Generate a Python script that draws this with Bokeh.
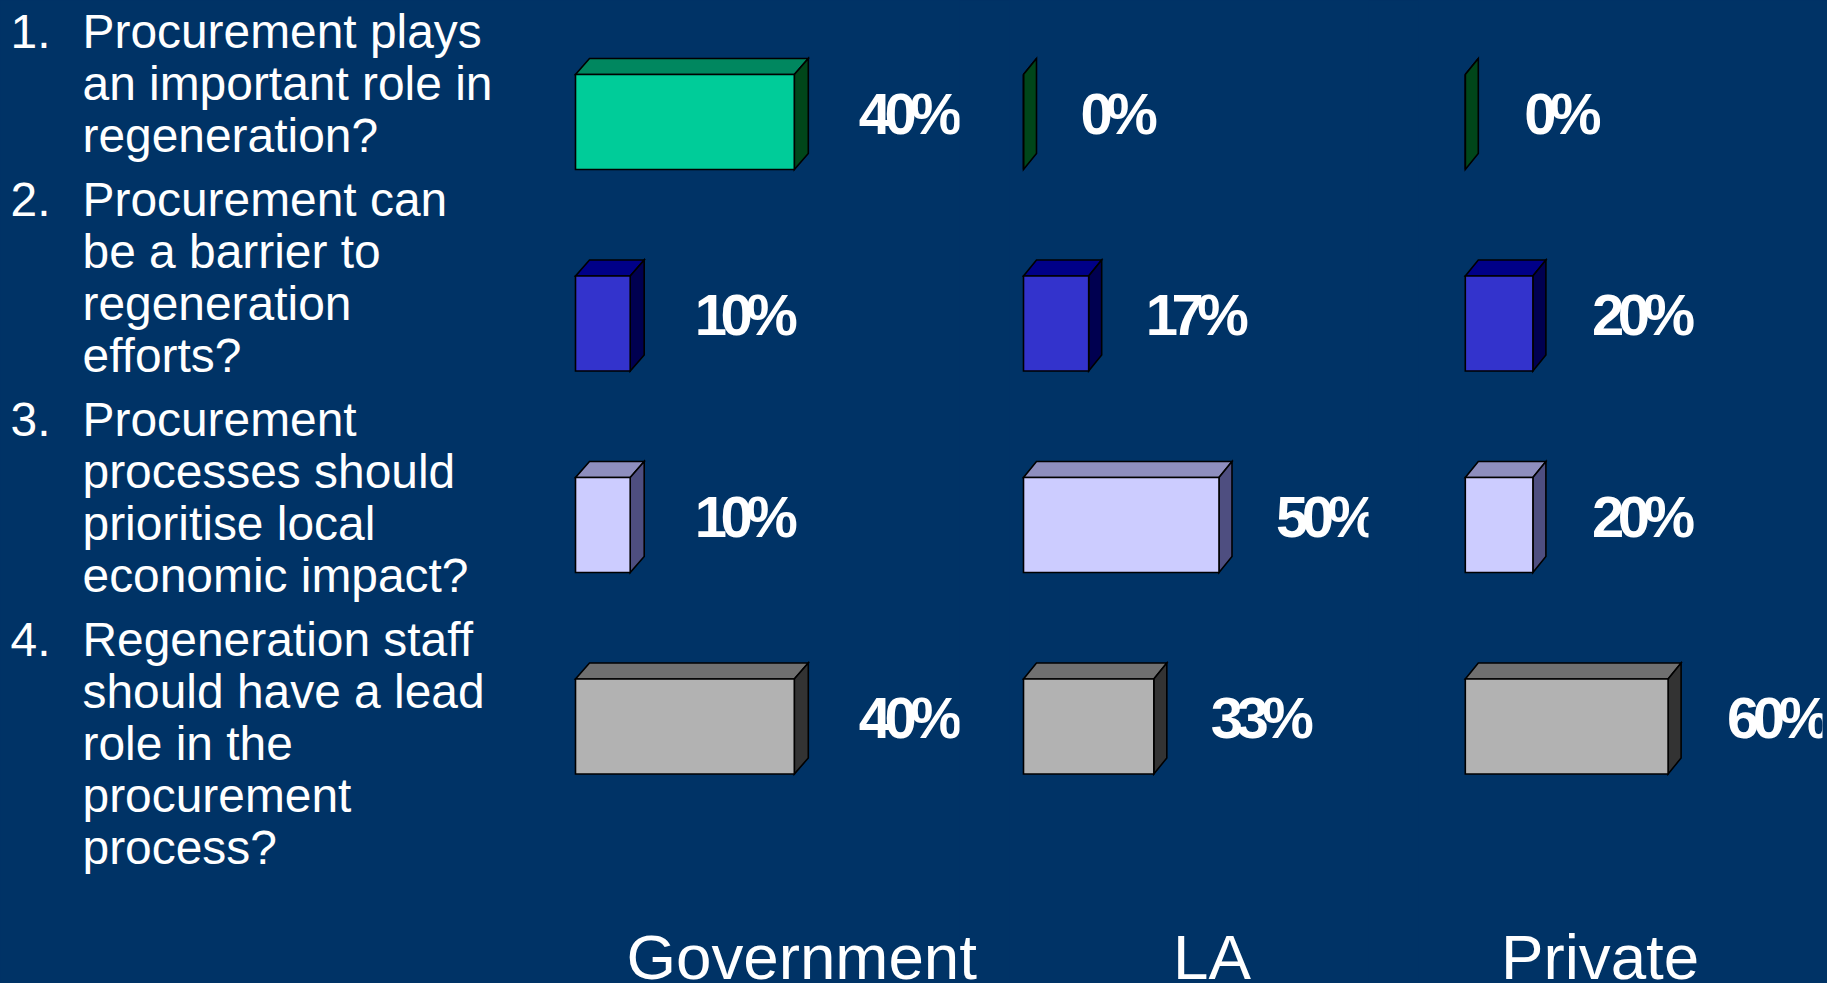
from bokeh.plotting import figure
from bokeh.models import Range1d
from bokeh.core.properties import value
from bokeh.embed import file_html
from bokeh.resources import INLINE

W, H = 1827, 983
BG = "#003366"

# Data
groups = ["Government", "LA", "Private"]
government = [40, 10, 10, 40]
la = [0, 16.67, 50, 33.33]
private = [0, 20, 20, 60]
government_labels = ["40%", "10%", "10%", "40%"]
la_labels = ["0%", "17%", "50%", "33%"]
private_labels = ["0%", "20%", "20%", "60%"]
questions = [
    ["Procurement plays", "an important role in", "regeneration?"],
    ["Procurement can", "be a barrier to", "regeneration", "efforts?"],
    ["Procurement", "processes should", "prioritise local", "economic impact?"],
    ["Regeneration staff", "should have a lead", "role in the", "procurement", "process?"],
]

# Styles
front_colors = ["#00CC99", "#3333CC", "#CCCCFF", "#B2B2B2"]
top_colors = ["#00875F", "#000088", "#8E8EBE", "#707070"]
side_colors = ["#00461A", "#000050", "#4E4E80", "#333333"]

x0 = [575, 1023, 1464.8]        # pixel of 0 %
px_per = [5.47, 3.91, 3.38]     # pixel per %
dx = [14, 13, 13]               # depth of the box
lab_gap = [50.5, 44, 46]
clips = [959, 1368, 1822]
ROW0, PITCH, FRONT, DY = 74, 201.5, 95, 16
BASE_FIX = 0.37                 # baseline correction, in em

LIST_PX, LABEL_PX, GROUP_PX = 47.9, 58, 63.7

p = figure(width=W, height=H, x_range=Range1d(0, W), y_range=Range1d(H, 0),
           output_backend="svg", toolbar_location=None, min_border=0,
           background_fill_color=BG, border_fill_color=BG, outline_line_color=None)
p.axis.visible = False
p.grid.visible = False
p.extra_y_ranges["rows"] = Range1d((H - ROW0) / PITCH, -ROW0 / PITCH)

columns = [(government, government_labels), (la, la_labels), (private, private_labels)]
for c, (vals, labs) in enumerate(columns):
    name = f"col{c}"
    s = px_per[c]
    p.extra_x_ranges[name] = Range1d(-x0[c] / s, (W - x0[c]) / s)
    d, hh, dy = dx[c] / s, FRONT / PITCH, DY / PITCH
    rows = list(range(len(vals)))
    kw = dict(x_range_name=name, y_range_name="rows", line_color="black", line_width=1.6,
              line_join="miter")
    p.patches([[0, v, v + d, d] for v in vals],
              [[r, r, r - dy, r - dy] for r in rows],
              fill_color=top_colors, **kw)
    p.patches([[v, v + d, v + d, v] for v in vals],
              [[r, r - dy, r + hh - dy, r + hh] for r in rows],
              fill_color=side_colors, **kw)
    p.patches([[0, v, v, 0] for v in vals],
              [[r, r, r + hh, r + hh] for r in rows],
              fill_color=front_colors, **kw)
    p.text([v + d for v in vals], [r + 0.3 for r in rows], text=labs,
           x_range_name=name, y_range_name="rows", x_offset=lab_gap[c],
           y_offset=-BASE_FIX * LABEL_PX,
           text_color="white", text_font=value("Liberation Sans"),
           text_font_style="bold", text_font_size=f"{LABEL_PX}px",
           text_baseline="alphabetic", text_align="left")

# the value labels are cut off by their chart box on the right
for clip in clips:
    p.quad(left=[clip], right=[clip + 50], top=[0], bottom=[H],
           fill_color=BG, line_color=None)

# Question list
baseline = 48.7
for i, lines in enumerate(questions):
    p.text([10], [baseline], text=[f"{i + 1}."], text_color="white", y_offset=-BASE_FIX * LIST_PX,
           text_font=value("Liberation Sans"), text_font_size=f"{LIST_PX}px",
           text_baseline="alphabetic")
    ys = [baseline + 52 * k for k in range(len(lines))]
    p.text([82] * len(lines), ys, text=lines, text_color="white", y_offset=-BASE_FIX * LIST_PX,
           text_font=value("Liberation Sans"), text_font_size=f"{LIST_PX}px",
           text_baseline="alphabetic")
    baseline += 52 * len(lines) + 12

# Group captions
p.text([626, 1172.5, 1500.5], [979.5] * 3, text=groups, text_color="white",
       y_offset=-BASE_FIX * GROUP_PX,
       text_font=value("Liberation Sans"), text_font_size=f"{GROUP_PX}px",
       text_baseline="alphabetic")

tighten = """
<script>
(function () {
  function walk(root) {
    root.querySelectorAll('*').forEach(function (el) {
      if (el.shadowRoot) walk(el.shadowRoot);
      if (el.tagName && el.tagName.toLowerCase() === 'text' && /%$/.test(el.textContent)) {
        el.style.letterSpacing = '-6.5px';
      }
    });
  }
  var n = 0, t = setInterval(function () { walk(document); if (++n > 100) clearInterval(t); }, 30);
})();
</script>
"""
html = file_html(p, INLINE)
html = html.replace("</head>", f"<style>html,body{{margin:0;padding:0;background:{BG};overflow:hidden}}</style></head>", 1)
html = html.replace("</body>", tighten + "</body>", 1)
open("out.html", "w").write(html)
